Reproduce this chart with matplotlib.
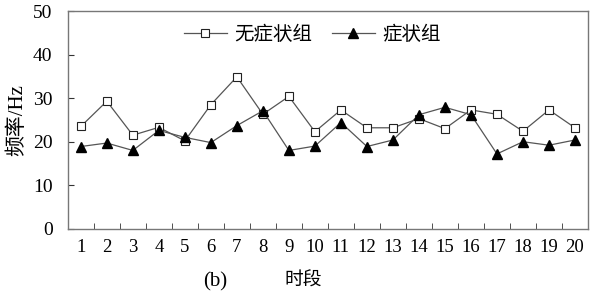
import numpy as np
import matplotlib
matplotlib.use("Agg")
import matplotlib.pyplot as plt

plt.rcParams['font.family'] = ['Liberation Serif', 'Noto Sans CJK SC']

# data
periods = list(range(1, 21))
no_symptom = [23.5, 29.3, 21.5, 23.3, 20.2, 28.5, 34.9, 26.3, 30.4, 22.3,
              27.3, 23.2, 23.2, 25.3, 23.0, 27.3, 26.3, 22.4, 27.3, 23.2]
symptom = [18.9, 19.7, 18.0, 22.6, 21.0, 19.8, 23.7, 27.1, 18.0, 19.0,
           24.4, 18.9, 20.4, 26.2, 27.9, 26.2, 17.2, 20.0, 19.2, 20.4]
yticks = [0, 10, 20, 30, 40, 50]

fig = plt.figure(figsize=(6, 2.98), dpi=100)
ax = fig.add_axes([0.113, 0.232, 0.867, 0.731])

ax.plot(periods, no_symptom, color='#555555', lw=0.9, marker='s', ms=5.5,
        mfc='white', mec='#222222', mew=0.8, label='无症状组')
ax.plot(periods, symptom, color='#555555', lw=0.9, marker='^', ms=6.5,
        mfc='black', mec='black', label='症状组')

ax.set_xlim(0.5, 20.5)
ax.set_ylim(0, 50)
ax.set_yticks(yticks)
ax.set_xticks(periods)
ax.set_xticks(np.arange(1.5, 20, 1), minor=True)
ax.tick_params(axis='x', which='major', length=0, pad=7, labelsize=13.5)
ax.tick_params(axis='x', which='minor', direction='in', length=4, color='#333333')
ax.tick_params(axis='y', direction='in', length=4, labelsize=14, pad=11, color='#333333')
for s in ax.spines.values():
    s.set_color('#777777')
    s.set_linewidth(1.0)

ax.set_ylabel('频率/Hz', fontsize=15, labelpad=4)
fig.text(0.358, 0.055, '(b)', fontsize=15, ha='center', va='center')
fig.text(0.505, 0.06, '时段', fontsize=13.5, ha='center', va='center',
         family=['Noto Sans CJK SC'])

ax.legend(loc='upper center', bbox_to_anchor=(0.47, 1.02), ncol=2,
          frameon=False, handlelength=2.2,
          columnspacing=1.0, handletextpad=0.4,
          prop={'family': ['Noto Sans CJK SC'], 'size': 14})

fig.savefig('out.png', dpi=100)
